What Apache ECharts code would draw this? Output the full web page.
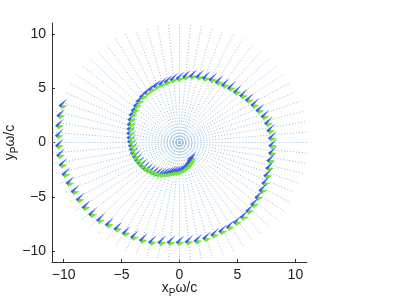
<!DOCTYPE html>
<html>
<head>
<meta charset="utf-8">
<script src="https://cdn.jsdelivr.net/npm/echarts@6/dist/echarts.min.js"></script>
<style>
  html, body { margin: 0; padding: 0; background: #fff; }
  #draw { width: 398px; height: 299px; }
</style>
</head>
<body>
<div id="draw"></div>
<script>
// ray directions (degrees) and their length in data units
var rayAngles = [0, 5, 10, 15, 20, 25, 30, 35, 40, 45, 50, 55, 60, 65, 70, 75, 80, 85,
  90, 95, 100, 105, 110, 115, 120, 125, 130, 135, 140, 145, 150, 155, 160, 165, 170, 175,
  180, 185, 190, 195, 200, 205, 210, 215, 220, 225, 230, 235, 240, 245, 250, 255, 260, 265,
  270, 275, 280, 285, 290, 295, 300, 305, 310, 315, 320, 325, 330, 335, 340, 345, 350, 355];
var rayLength = 11;

// spiral: polar angle (deg, running clockwise) and radius
var spiralAngle = [-50, -55, -60, -65, -70, -75, -80, -85, -90, -95, -100, -105, -110, -115,
  -120, -125, -130, -135, -140, -145, -150, -155, -160, -165, -170, -175, -180, -185, -190,
  -195, -200, -205, -210, -215, -220, -225, -230, -235, -240, -245, -250, -255, -260, -265,
  -270, -275, -280, -285, -290, -295, -300, -305, -310, -315, -320, -325, -330, -335, -340,
  -345, -350, -355, -360, -365, -370, -375, -380, -385, -390, -395, -400, -405, -410, -415,
  -420, -425, -430, -435, -440, -445, -450, -455, -460, -465, -470, -475, -480, -485, -490,
  -495, -500, -505, -510, -515, -520, -525, -530, -535, -540, -545, -550, -555, -560];
var spiralRadius = [1.6, 1.7, 1.8, 1.9, 2.0, 2.1, 2.2, 2.3, 2.4, 2.45, 2.5, 2.6, 2.75, 2.9,
  3.05, 3.2, 3.3, 3.4, 3.5, 3.6, 3.7, 3.77, 3.85, 3.9, 4.0, 4.05, 4.1, 4.2, 4.3,
  4.4, 4.5, 4.65, 4.8, 4.95, 5.05, 5.2, 5.35, 5.5, 5.6, 5.7, 5.8, 5.85, 5.95, 6.1,
  6.2, 6.35, 6.5, 6.55, 6.6, 6.7, 6.75, 6.8, 6.9, 7.0, 7.15, 7.3, 7.45, 7.6, 7.8,
  7.9, 7.95, 8.0, 8.0, 8.0, 7.95, 8.0, 8.05, 8.15, 8.25, 8.3, 8.4, 8.5, 8.6, 8.62,
  8.65, 8.7, 8.75, 8.85, 8.9, 8.9, 8.9, 8.95, 9.05, 9.2, 9.25, 9.3, 9.3, 9.35, 9.5,
  9.7, 9.85, 9.9, 9.95, 10.0, 10.1, 10.2, 10.25, 10.35, 10.4, 10.45, 10.55, 10.65, 10.75];

var tickValues = [-10, -5, 0, 5, 10];

var rayData = rayAngles.map(function (a) {
  var t = a * Math.PI / 180;
  return [rayLength * Math.cos(t), rayLength * Math.sin(t)];
});
var spiralData = spiralAngle.map(function (a, i) {
  var t = a * Math.PI / 180;
  return [spiralRadius[i] * Math.cos(t), spiralRadius[i] * Math.sin(t)];
});

function fmt(v) {
  return v < 0 ? '\u2212' + (-v) : '' + v;
}

var axisFont = { fontFamily: 'Liberation Sans', fontSize: 14, color: '#222' };
var nameRich = {
  a: { fontFamily: 'Liberation Sans', fontSize: 14, color: '#222', lineHeight: 16 },
  s: { fontFamily: 'Liberation Sans', fontSize: 10, color: '#222', padding: [10, 0, 0, 0] }
};

var myChart = echarts.init(document.getElementById('draw'));
myChart.setOption({
  animation: false,
  grid: { left: 52, right: 91, top: 23, bottom: 37, outerBoundsMode: 'none', containLabel: false },
  xAxis: {
    type: 'value', min: -11, max: 11,
    name: '{a|x}{s|P}{a|\u03c9/c}', nameLocation: 'middle', nameGap: 16, nameMoveOverlap: false,
    nameTextStyle: { rich: nameRich },
    axisLine: { show: true, onZero: false, lineStyle: { color: '#333', width: 1 } },
    axisTick: { show: true, inside: true, length: 3, customValues: tickValues, lineStyle: { color: '#333' } },
    axisLabel: Object.assign({ customValues: tickValues, margin: 6, formatter: fmt }, axisFont),
    splitLine: { show: false }
  },
  yAxis: {
    type: 'value', min: -11, max: 11,
    name: '{a|y}{s|P}{a|\u03c9/c}', nameLocation: 'middle', nameGap: 32, nameRotate: 90, nameMoveOverlap: false,
    nameTextStyle: { rich: nameRich },
    axisLine: { show: true, onZero: false, lineStyle: { color: '#333', width: 1 } },
    axisTick: { show: true, inside: true, length: 3, customValues: tickValues, lineStyle: { color: '#333' } },
    axisLabel: Object.assign({ customValues: tickValues, margin: 6, formatter: fmt }, axisFont),
    splitLine: { show: false }
  },
  series: [
    {
      type: 'custom',
      clip: true,
      silent: true,
      data: rayData,
      renderItem: function (params, api) {
        var p0 = api.coord([0, 0]);
        var p1 = api.coord([api.value(0), api.value(1)]);
        return {
          type: 'line',
          shape: { x1: p0[0], y1: p0[1], x2: p1[0], y2: p1[1] },
          style: { stroke: '#93bcdd', lineWidth: 1, lineDash: [1, 2] }
        };
      }
    },
    {
      type: 'custom',
      clip: true,
      silent: true,
      data: spiralData,
      renderItem: function (params, api) {
        var p = api.coord([api.value(0), api.value(1)]);
        var x = p[0], y = p[1];
        return {
          type: 'group',
          children: [
            { // green arrow, sits a little lower right
              type: 'polygon',
              shape: { points: [[x - 3, y + 2], [x + 5, y + 3], [x - 1, y + 7]] },
              style: { fill: '#6ee830' }
            },
            { // blue arrow
              type: 'polygon',
              shape: { points: [[x - 4, y + 3], [x + 5, y - 4], [x + 1, y + 1], [x - 2, y + 5]] },
              style: { fill: '#3f5cf0' }
            }
          ]
        };
      }
    }
  ]
});
</script>
</body>
</html>
